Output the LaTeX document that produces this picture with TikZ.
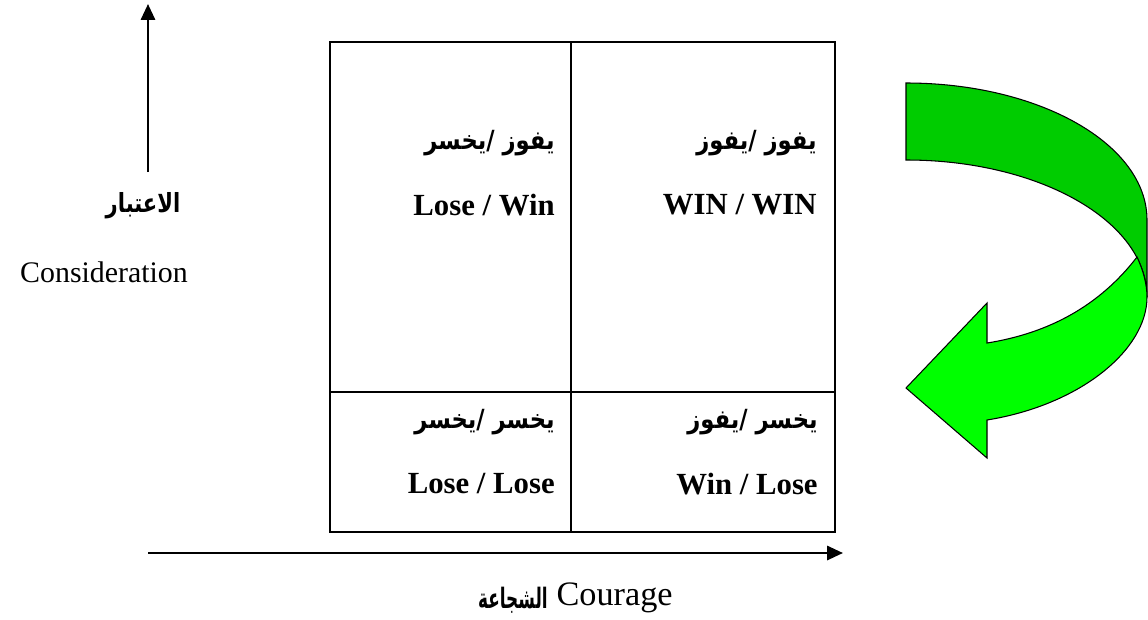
\documentclass[tikz,border=0pt]{standalone}
\usepackage{fontspec}
\usepackage{graphicx}
\setmainfont{Liberation Serif}
\newfontfamily\arabicfont[Script=Arabic]{DejaVu Sans}
\TeXXeTstate=1
\usepackage{tikz}
\usetikzlibrary{arrows.meta}
\definecolor{darkgrn}{HTML}{00CC00}
\definecolor{lightgrn}{HTML}{00FF00}
\newcommand{\arw}[1]{{\beginR #1\endR}}
\newcommand{\arpair}[2]{\scalebox{0.86}[1]{\arw{#1}/ \arw{#2}}}
\tikzset{
  enlbl/.style={font=\fontsize{17.5}{20}\selectfont\bfseries, anchor=east, inner sep=0pt},
  arlbl/.style={font=\arabicfont\bfseries\fontsize{15}{18}\selectfont, anchor=east, inner sep=0pt},
  axisline/.style={line width=1.4pt, -{Triangle[length=9pt,width=8pt]}},
  gridline/.style={line width=0.9pt},
}

\begin{document}
\begin{tikzpicture}[x=0.02cm,y=-0.02cm]
\useasboundingbox (0,0) rectangle (1148,619);
\coordinate (B1) at (330,42);
\coordinate (B2) at (835,532);
\coordinate (M1) at (571,42);
\coordinate (M2) at (571,532);
\coordinate (H1) at (330,392);
\coordinate (H2) at (835,392);
\coordinate (V1) at (148,172);
\coordinate (V2) at (148,4);
\coordinate (C1) at (148,553);
\coordinate (C2) at (843,553);
\draw[gridline] (B1) rectangle (B2);
\draw[gridline] (M1) -- (M2);
\draw[gridline] (H1) -- (H2);
\draw[axisline] (V1) -- (V2);
\draw[axisline] (C1) -- (C2);
% green arrow
\filldraw[fill=darkgrn, line width=0.6pt] (906,83) .. controls (1039,83) and (1147,144) .. (1147,220) -- (1147,297) .. controls (1147,221) and (1039,160) .. (906,160) -- cycle;
\filldraw[fill=lightgrn, line width=0.6pt] (1137,257) .. controls (1143,270) and (1147,284) .. (1147,297) .. controls (1147,350) and (1080,405) .. (987,420) -- (987,458) -- (906,388) -- (987,303) -- (987,343) .. controls (1050,333) and (1100,305) .. (1137,257) -- cycle;
\node[arlbl] (tlAr) at (555,143) {\arpair{يخسر}{يفوز}};
\node[enlbl] (tlEn) at (555,205) {Lose / Win};
\node[arlbl] (trAr) at (817,143) {\arpair{يفوز}{يفوز}};
\node[enlbl] (trEn) at (817,205) {WIN / WIN};
\node[arlbl] (blAr) at (555,422) {\arpair{يخسر}{يخسر}};
\node[enlbl] (blEn) at (555,484) {Lose / Lose};
\node[arlbl] (brAr) at (818,422) {\arpair{يفوز}{يخسر}};
\node[enlbl] (brEn) at (818,484) {Win / Lose};
\node[font=\arabicfont\bfseries\fontsize{15}{18}\selectfont] (consAr) at (143,206) {\scalebox{0.8}[1]{\arw{الاعتبار}}};
\node[font=\fontsize{17}{20}\selectfont] (consEn) at (104,272) {Consideration};
\node[font=\fontsize{19.5}{22}\selectfont, anchor=east, inner sep=0pt] (courEn) at (673,598) {Courage};
\node[font=\arabicfont\bfseries\fontsize{16}{18}\selectfont, anchor=east, inner sep=0pt] (courAr) at (548,600) {\scalebox{0.6}[1]{\arw{الشجاعة}}};
\end{tikzpicture}
\end{document}
